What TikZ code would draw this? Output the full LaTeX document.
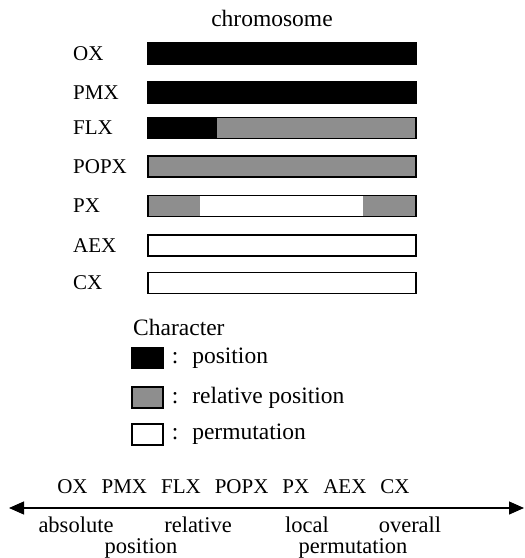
\documentclass[tikz,border=0pt]{standalone}
\usepackage{fontspec}
\setmainfont{Liberation Serif}
\usetikzlibrary{arrows.meta,positioning,calc}
\definecolor{dots}{HTML}{8E8E8E}
\newcommand{\wsep}{\hspace{14pt}}
\tikzset{
  >={Triangle[length=15pt,width=13pt]},
  bar/.style={draw=black,line width=1.1pt,minimum width=268pt,minimum height=21pt,inner sep=0pt,fill=white},
  pbar/.style={bar,fill=black},
  rbar/.style={bar,fill=dots},
  key/.style={draw=black,line width=1.1pt,minimum width=31pt,minimum height=21pt,inner sep=0pt},
  lab/.style={anchor=west,inner sep=0pt},
  txt/.style={inner sep=0pt,font=\fontsize{23.5}{27}\selectfont},
  scl/.style={anchor=base,inner sep=0pt,font=\fontsize{22.5}{26}\selectfont},
  axis/.style={<->,line width=1.2pt},
}

\begin{document}
\begin{tikzpicture}[x=1pt,y=-1pt,every node/.style={font=\fontsize{21}{25}\selectfont}]
\useasboundingbox (0,0) rectangle (525,558);
\node[txt,anchor=base] (title) at (272,26) {chromosome};
% bars
\node[pbar] (ox) at (282,53.5) {};
\node[pbar] (pmx) at (282,92.5) {};
\node[rbar,path picture={\fill[black] (path picture bounding box.north west) rectangle ([xshift=69pt]path picture bounding box.south west);}] (flx) at (282,128) {};
\node[rbar] (popx) at (282,166.5) {};
\node[bar,path picture={\fill[dots] (path picture bounding box.north west) rectangle ([xshift=52pt]path picture bounding box.south west); \fill[dots] (path picture bounding box.north east) rectangle ([xshift=-53pt]path picture bounding box.south east);}] (px) at (282,206) {};
\node[bar] (aex) at (282,245.5) {};
\node[bar] (cx) at (282,283) {};
\node[lab] (oxl) at (73,0 |- ox) {OX};
\node[lab] (pmxl) at (73,0 |- pmx) {PMX};
\node[lab] (flxl) at (73,0 |- flx) {FLX};
\node[lab] (popxl) at (73,0 |- popx) {POPX};
\node[lab] (pxl) at (73,0 |- px) {PX};
\node[lab] (aexl) at (73,0 |- aex) {AEX};
\node[lab] (cxl) at (73,0 |- cx) {CX};
% legend
\node[txt,anchor=base west] (char) at (133,335) {Character};
\node[key,fill=black] (kpos) at (147.5,358) {};
\node[key,fill=dots] (krel) at (147.5,397.5) {};
\node[key,fill=white] (kperm) at (147.5,434.5) {};
\node[txt,right=8pt of kpos] (tpos) {:\hspace{14pt}position};
\node[txt,right=8pt of krel] (trel) {:\hspace{14pt}relative position};
\node[txt,right=8pt of kperm] (tperm) {:\hspace{14pt}permutation};
% scale
\node[anchor=base,inner sep=0pt] (order) at (233.5,493) {OX\wsep PMX\wsep FLX\wsep POPX\wsep PX\wsep AEX\wsep CX};
\coordinate (lend) at (9,508);
\coordinate (rend) at (524,508);
\draw[axis] (lend) -- (rend);
\node[scl] (abs) at (76,532) {absolute};
\node[scl] (rel) at (198,532) {relative};
\node[scl] (loc) at (307,532) {local};
\node[scl] (ovr) at (410,532) {overall};
\node[scl] (posn) at (141,553) {position};
\node[scl] (perm) at (353,553) {permutation};
\end{tikzpicture}
\end{document}
